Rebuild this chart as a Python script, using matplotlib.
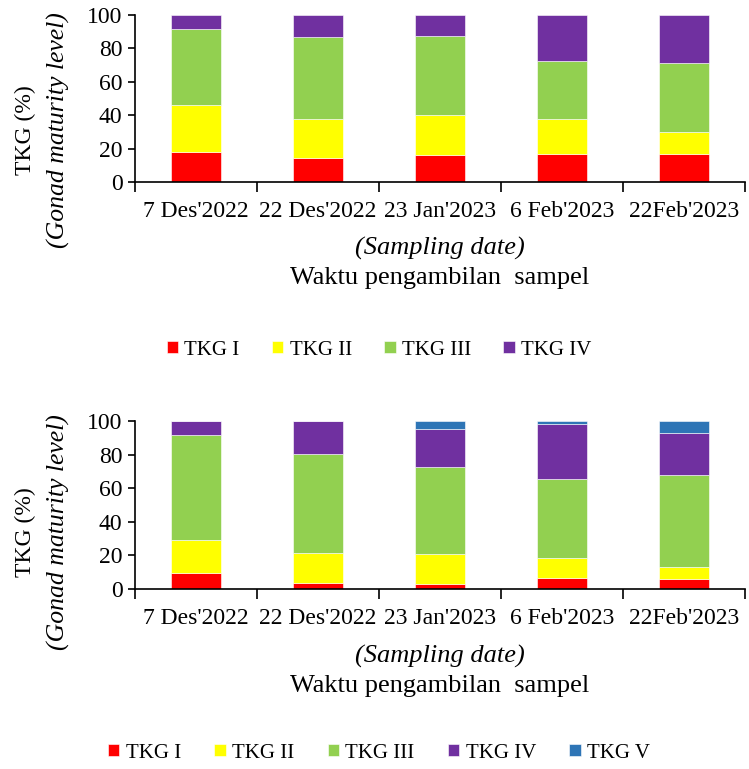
import numpy as np
import matplotlib
matplotlib.use("Agg")
import matplotlib.pyplot as plt

plt.rcParams['font.family'] = ['Liberation Serif', 'DejaVu Serif']

dates = ["7 Des'2022", "22 Des'2022", "23 Jan'2023", "6 Feb'2023", "22Feb'2023"]

# top chart (%)
top_tkg1 = [18.2, 14.6, 16.2, 16.8, 16.8]
top_tkg2 = [27.7, 23.1, 23.7, 20.9, 13.1]
top_tkg3 = [45.9, 48.9, 47.7, 34.6, 41.6]
top_tkg4 = [8.2, 13.4, 12.4, 27.7, 28.5]

# bottom chart (%)
bot_tkg1 = [9.3, 3.8, 3.2, 6.7, 6.1]
bot_tkg2 = [19.6, 17.6, 17.4, 11.5, 7.0]
bot_tkg3 = [62.8, 58.8, 51.9, 47.3, 54.8]
bot_tkg4 = [8.3, 19.8, 22.9, 32.5, 25.2]
bot_tkg5 = [0.0, 0.0, 4.6, 2.0, 6.9]

labels = ["TKG I", "TKG II", "TKG III", "TKG IV", "TKG V"]
colors = ["#FF0000", "#FFFF00", "#92D050", "#7030A0", "#2E75B6"]

W, H = 749, 769
fig = plt.figure(figsize=(W / 100, H / 100), dpi=100)


def panel(ax_rect, series, ylab_y, xlab_y, leg_y, colsp):
    ax = fig.add_axes(ax_rect)
    x = np.arange(len(dates))
    bottom = np.zeros(len(dates))
    handles = []
    for i, s in enumerate(series):
        b = ax.bar(x, s, 0.41, bottom=bottom, color=colors[i], label=labels[i],
                   edgecolor='white', linewidth=0.4)
        handles.append(b)
        bottom += np.array(s)
    ax.set_xlim(-0.5, 4.5)
    ax.set_ylim(0, 100)
    ax.set_yticks(range(0, 101, 20))
    ax.set_xticks(x)
    ax.set_xticklabels(dates, fontsize=17)
    ax.set_xticks(np.arange(-0.5, 5, 1), minor=True)
    ax.tick_params(axis='x', which='major', length=0, pad=14)
    ax.tick_params(axis='x', which='minor', length=7, width=1.2, direction='out')
    ax.tick_params(axis='y', length=5, width=1.2, labelsize=17, pad=4)
    for sp in ['top', 'right']:
        ax.spines[sp].set_visible(False)
    for sp in ['left', 'bottom']:
        ax.spines[sp].set_linewidth(1.2)

    fig.text(25 / W, 1 - ylab_y / H, "TKG (%)", rotation=90, fontsize=17,
             ha='center', va='center')
    fig.text(58 / W, 1 - ylab_y / H, "(Gonad maturity level)", rotation=90,
             fontsize=18.5, style='italic', ha='center', va='center')
    fig.text(440 / W, 1 - xlab_y / H, "(Sampling date)", fontsize=19,
             style='italic', ha='center', va='center')
    fig.text(440 / W, 1 - (xlab_y + 30) / H, "Waktu pengambilan  sampel",
             fontsize=19, ha='center', va='center')
    fig.legend(handles=handles, loc='center', bbox_to_anchor=(379 / W, 1 - leg_y / H),
               ncol=len(handles), frameon=False, fontsize=15, handlelength=0.55,
               handleheight=0.55, handletextpad=0.3, columnspacing=colsp)
    return ax


panel([135 / W, 1 - 182 / H, (745 - 135) / W, 167 / H],
      [top_tkg1, top_tkg2, top_tkg3, top_tkg4], 130, 248, 350, 1.55)
panel([135 / W, 1 - 589 / H, (745 - 135) / W, 168 / H],
      [bot_tkg1, bot_tkg2, bot_tkg3, bot_tkg4, bot_tkg5], 532, 656, 753, 1.6)

fig.savefig("out.png", dpi=100)
